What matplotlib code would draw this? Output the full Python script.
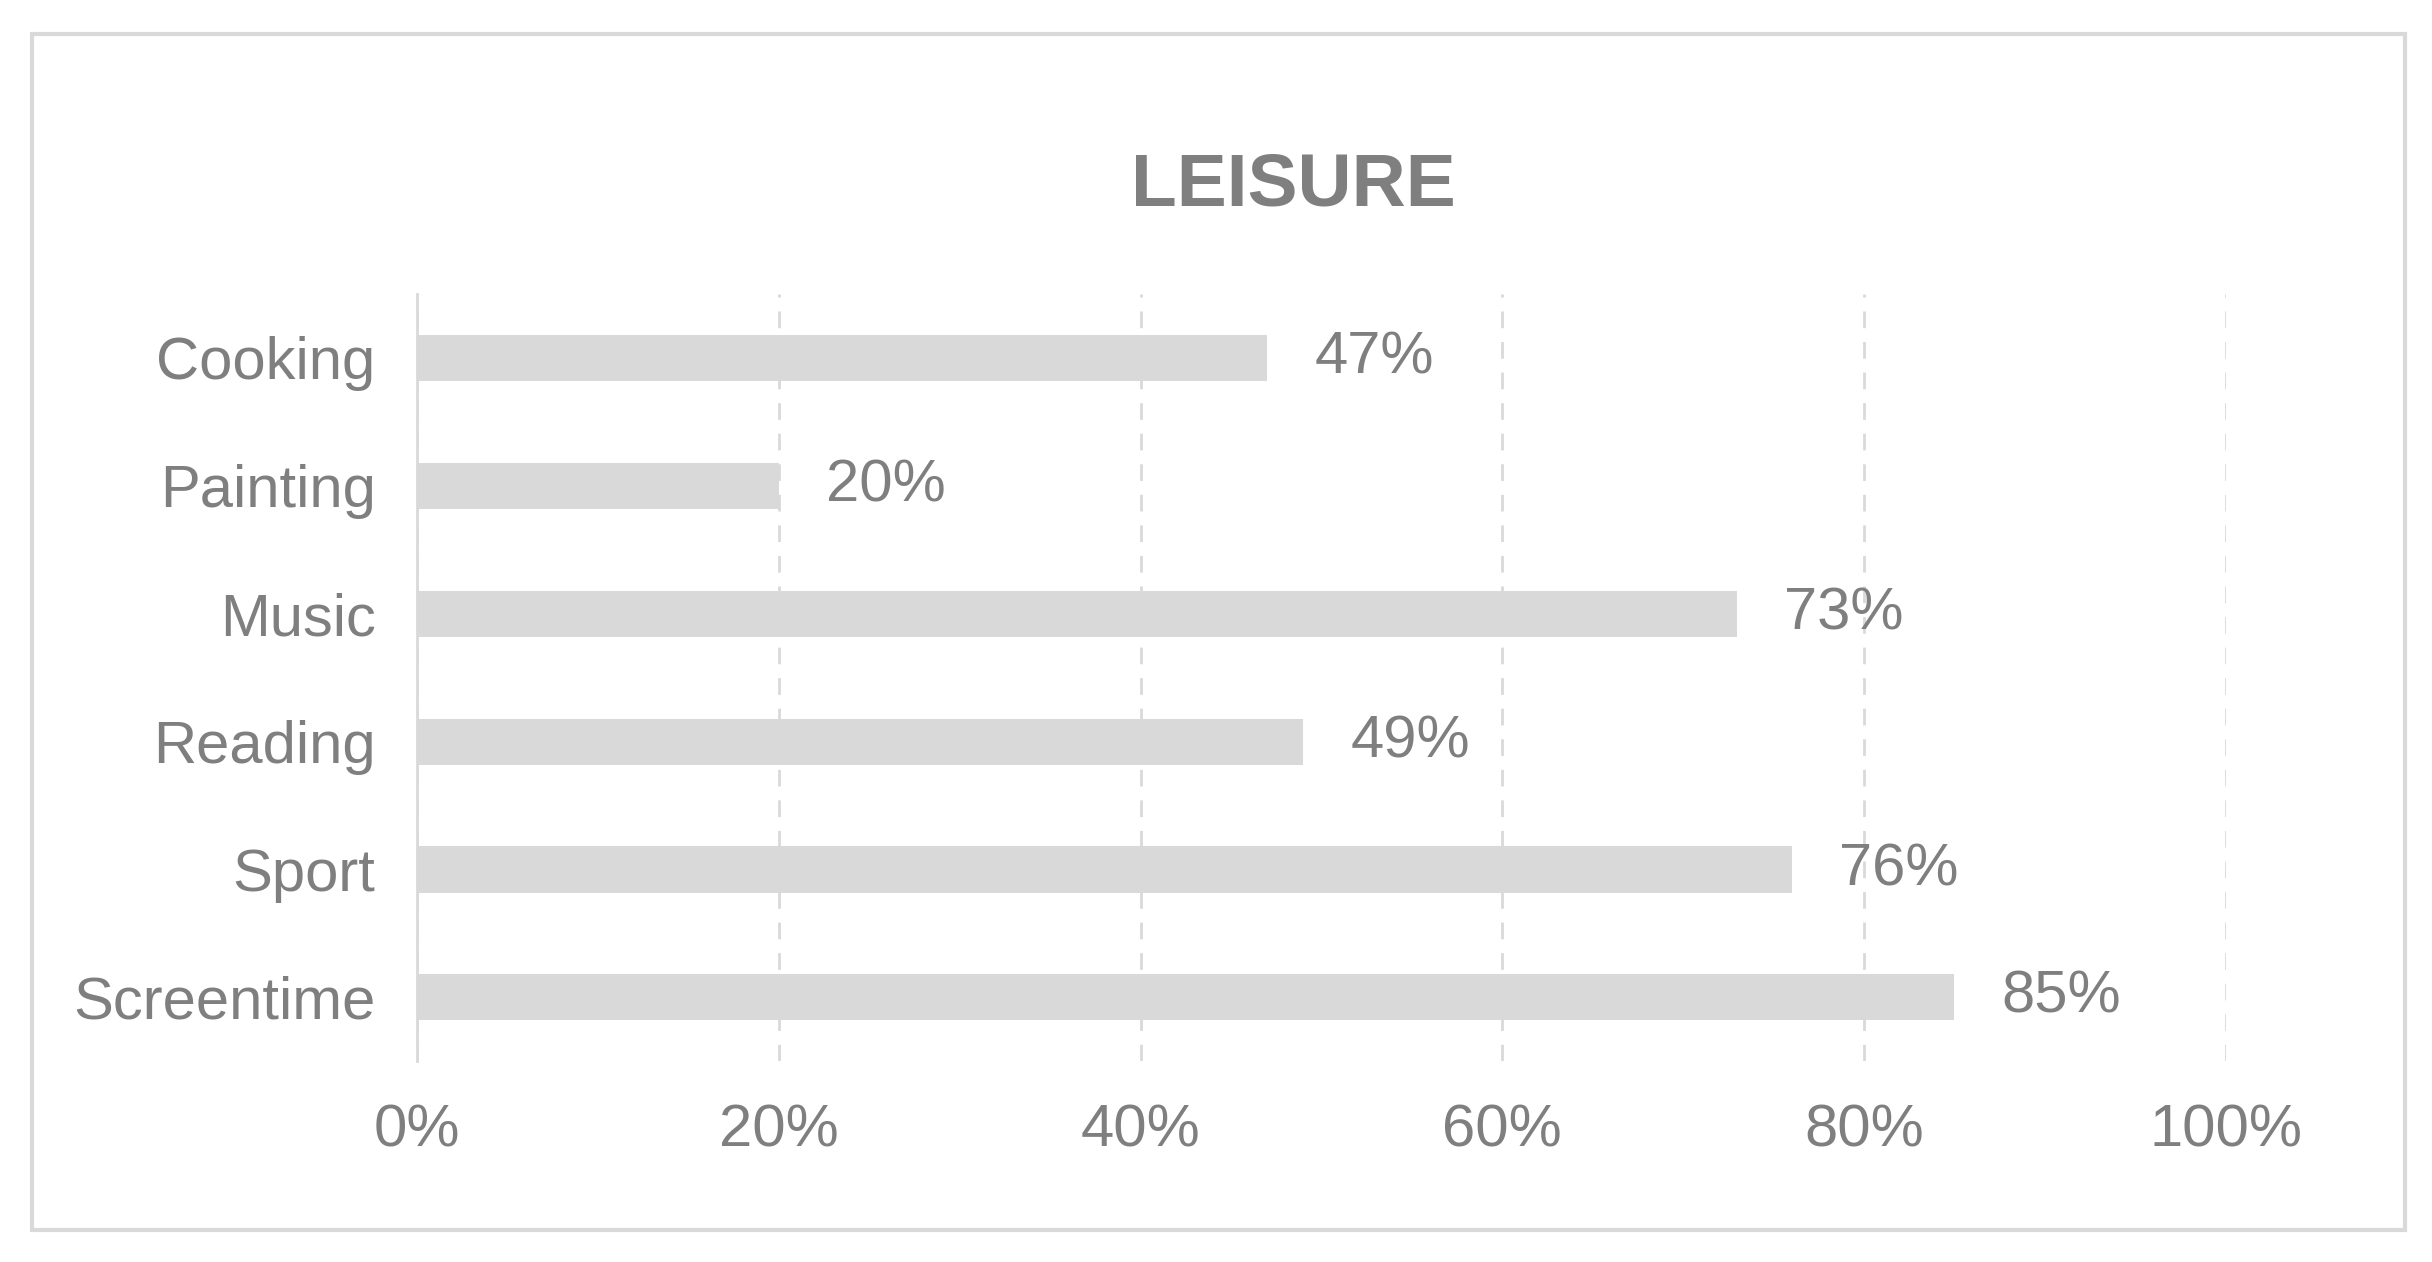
import matplotlib
matplotlib.use("Agg")
import matplotlib.pyplot as plt
from matplotlib.patches import Rectangle

categories = ["Cooking", "Painting", "Music", "Reading", "Sport", "Screentime"]
values = [47, 20, 73, 49, 76, 85]
xticks = [0, 20, 40, 60, 80, 100]

TXT = "#7f7f7f"
plt.rcParams["font.family"] = ["Liberation Sans", "DejaVu Sans"]

fig = plt.figure(figsize=(24.32, 12.62), dpi=100)
fig.patches.append(Rectangle((0.013, 0.025), 0.976, 0.948, transform=fig.transFigure,
                             fill=False, ec="#d9d9d9", lw=3))
ax = fig.add_axes([0.1716, 0.159, 0.7435, 0.608])

y = list(range(len(categories)))[::-1]
ax.barh(y, values, height=0.36, color="#d9d9d9", zorder=2)
for yi, v in zip(y, values):
    ax.text(v + 2.6, yi, f"{v}%", va="center", ha="left", fontsize=43, color=TXT)

ax.set_xlim(0, 100)
ax.set_ylim(-0.5, len(categories) - 0.5)
ax.set_yticks(y)
ax.set_yticklabels(categories, fontsize=43, color=TXT)
ax.set_xticks(xticks)
ax.set_xticklabels([f"{t}%" for t in xticks], fontsize=43, color=TXT)
ax.tick_params(length=0, pad=30, axis="y")
ax.tick_params(length=0, pad=30, axis="x")
ax.grid(axis="x", ls=(0, (6, 5)), color="#d9d9d9", lw=2, zorder=0)
for s in ["top", "right", "bottom"]:
    ax.spines[s].set_visible(False)
ax.spines["left"].set_color("#d9d9d9")
ax.spines["left"].set_linewidth(2)
fig.text(0.532, 0.853, "LEISURE", ha="center", va="center", fontsize=54,
         fontweight="bold", color=TXT)
fig.savefig("out.png", dpi=100)
